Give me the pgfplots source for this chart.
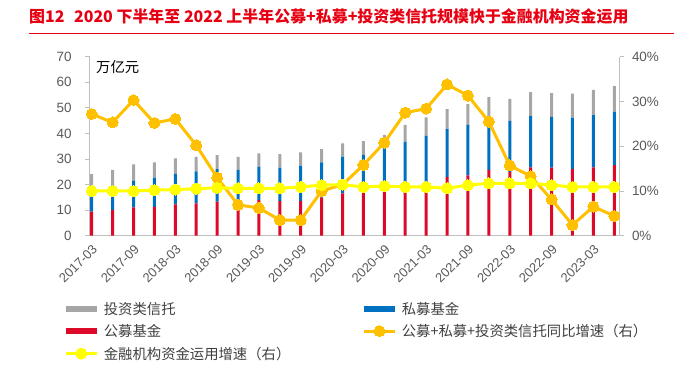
\documentclass[border=0pt]{standalone}
\usepackage{fontspec}
\setmainfont{Liberation Sans}
\newfontfamily\cjk{Noto Sans CJK SC}
\usepackage{pgfplots}
\usepackage{pgfplotstable}
\pgfplotsset{compat=1.18}

\definecolor{cRed}{HTML}{DC0A28}
\definecolor{cBlue}{HTML}{0070C0}
\definecolor{cGray}{HTML}{A6A6A6}
\definecolor{cOrange}{HTML}{FFC000}
\definecolor{cYellow}{HTML}{FFFF00}
\definecolor{titleRed}{HTML}{E60012}
\definecolor{axisGray}{HTML}{BFBFBF}
\definecolor{labelGray}{HTML}{595959}
\definecolor{legendGray}{HTML}{404040}

\pgfplotstableread{
q red blue gray
0 9.4 8.6 6.1
1 10.0 9.5 6.2
2 11.1 10.3 6.5
3 11.3 11.4 6.0
4 12.3 11.9 6.0
5 12.6 12.6 5.6
6 13.3 12.7 5.5
7 13.0 12.7 5.1
8 13.9 13.1 5.2
9 13.5 13.1 5.3
10 13.6 13.8 5.2
11 14.9 13.8 5.2
12 16.6 14.3 5.2
13 16.9 14.7 5.4
14 18.0 16.2 5.2
15 19.9 16.9 6.5
16 21.0 18.1 7.2
17 23.0 18.7 7.8
18 23.6 19.7 8.2
19 25.7 18.3 10.2
20 25.0 19.9 8.6
21 26.7 20.2 9.2
22 26.6 19.9 9.3
23 26.1 20.1 9.4
24 26.7 20.5 9.8
25 27.6 20.9 10.0
}\barsdata

\pgfplotstableread{
q orange yellow
0 27.2 10.0
1 25.3 10.0
2 30.3 10.0
3 25.2 10.2
4 26.1 10.3
5 20.2 10.5
6 13.0 10.7
7 6.9 10.6
8 6.2 10.6
9 3.5 10.6
10 3.5 10.9
11 10.0 11.3
12 11.4 11.4
13 15.8 10.9
14 20.8 11.1
15 27.5 10.9
16 28.4 10.9
17 33.8 10.6
18 31.3 11.3
19 25.5 11.7
20 15.7 11.7
21 13.3 11.7
22 8.1 11.3
23 2.4 10.9
24 6.5 10.9
25 4.4 10.9
}\linesdata

\pgfplotsset{
  common/.style={
    at={(89.5bp,-235.7bp)}, anchor=south west,
    scale only axis, width=530bp, height=179bp,
    xmin=-0.105, xmax=25.25,
    tick align=outside, major tick length=4.3bp,
    tick style={axisGray, line width=0.75bp},
    axis line style={axisGray, line width=0.75bp},
    /pgf/number format/assume math mode=true,
    tick label style={font=\fontsize{13.5}{13.5}\selectfont, text=labelGray},
  }
}

\begin{document}
\begin{tikzpicture}
\useasboundingbox (0bp,0bp) rectangle (674bp,-381bp);
\node[anchor=west, text=titleRed, font=\cjk\bfseries\fontsize{16}{16}\selectfont, inner sep=0pt] at (29bp,-16.5bp) {图12\hspace{0.6em}2020 下半年至 2022 上半年公募+私募+投资类信托规模快于金融机构资金运用};
\draw[titleRed, line width=1bp] (29bp,-33.8bp) -- (674bp,-33.8bp);

\begin{axis}[common,
  ymin=0, ymax=70, ytick={0,10,...,70},
  ybar stacked, bar width=3bp,
  axis y line*=left, axis x line*=bottom,
  xtick={0,2,...,24},
  xticklabels={2017-03,2017-09,2018-03,2018-09,2019-03,2019-09,2020-03,2020-09,2021-03,2021-09,2022-03,2022-09,2023-03},
  major x tick style={draw=none},
  extra x ticks={-0.105,1.9,3.9,5.9,7.9,9.9,11.9,13.9,15.9,17.9,19.9,21.9,23.9},
  extra x tick labels={},
  extra x tick style={major tick length=4.3bp, tick style={axisGray, line width=0.75bp}},
  xticklabel style={rotate=45, anchor=north east, inner sep=2.5bp, font=\fontsize{13}{13}\selectfont},
  yticklabel style={anchor=east, inner sep=0pt, xshift=-13.5bp},
]
\addplot[fill=cRed, draw=none] table[x=q,y=red]{\barsdata};
\addplot[fill=cBlue, draw=none] table[x=q,y=blue]{\barsdata};
\addplot[fill=cGray, draw=none] table[x=q,y=gray]{\barsdata};
\end{axis}

\begin{axis}[common,
  ymin=0, ymax=40, ytick={0,10,...,40},
  axis y line*=right, axis x line=none,
  yticklabel={\pgfmathprintnumber{\tick}\%},
  yticklabel style={anchor=west, inner sep=0pt, xshift=8bp},
  legend columns=2,
  legend cell align=left,
  legend image code/.code={\draw[mark repeat=2,mark phase=2,#1] plot coordinates {(0bp,0bp) (15.5bp,0bp) (31bp,0bp)};},
  legend style={draw=none, fill=none, at={(-0.0506,-0.3581)}, anchor=north west,
    inner sep=0pt, row sep=5.5bp, column sep=0pt,
    font=\cjk\fontsize{14.4}{14.4}\selectfont, text=legendGray,
    nodes={inner xsep=4bp, inner ysep=0pt, text height=14bp, text depth=3bp, anchor=west}},
]
\addlegendimage{cGray, line width=6bp}
\addlegendentry{\makebox[253bp][l]{投资类信托}}
\addlegendimage{cBlue, line width=6bp}
\addlegendentry{私募基金}
\addlegendimage{cRed, line width=6bp}
\addlegendentry{\makebox[253bp][l]{公募基金}}
\addplot[cOrange, line width=3bp, mark=*, mark size=5.5bp, mark options={fill=cOrange, draw=cOrange, line width=0pt}] table[x=q,y=orange]{\linesdata};
\addlegendentry{公募+私募+投资类信托同比增速（右）}
\addplot[cYellow, line width=3bp, mark=*, mark size=5.5bp, mark options={fill=cYellow, draw=cYellow, line width=0pt}] table[x=q,y=yellow]{\linesdata};
\addlegendentry{\makebox[253bp][l]{金融机构资金运用增速（右）}}
\end{axis}

\node[anchor=west, font=\cjk\fontsize{14.4}{14.4}\selectfont, inner sep=0pt] at (96bp,-67bp) {万亿元};
\end{tikzpicture}
\end{document}
